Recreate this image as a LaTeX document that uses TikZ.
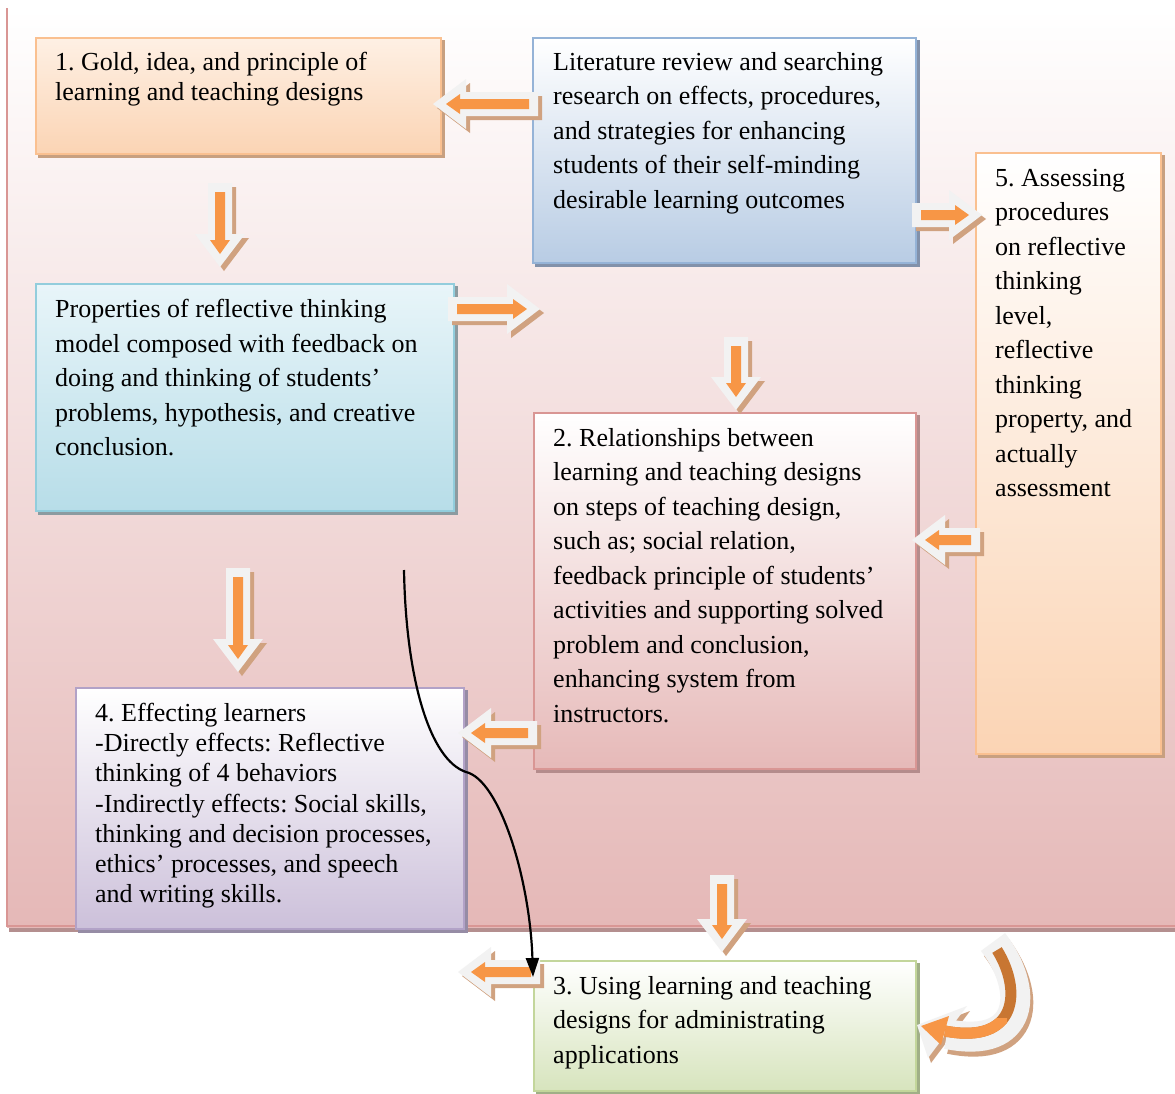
\documentclass[tikz,border=0pt]{standalone}
\usepackage{fontspec}
\setmainfont{Liberation Serif}
\usetikzlibrary{arrows.meta,calc}
\frenchspacing
\definecolor{bgpink}{RGB}{229,184,183}
\definecolor{bgline}{RGB}{217,150,148}
\definecolor{bgshadow}{RGB}{180,143,143}
\definecolor{arrwhite}{RGB}{242,242,242}
\definecolor{arrorange}{RGB}{247,150,70}
\definecolor{arrdark}{RGB}{200,118,50}
\definecolor{arrshadowc}{RGB}{208,162,128}
% box colours
\definecolor{oTop}{RGB}{254,240,228}
\definecolor{oBot}{RGB}{251,212,180}
\definecolor{oLine}{RGB}{250,192,144}
\definecolor{oSh}{RGB}{200,160,128}
\definecolor{bBot}{RGB}{184,204,228}
\definecolor{bLine}{RGB}{149,179,215}
\definecolor{bSh}{RGB}{130,145,170}
\definecolor{cTop}{RGB}{232,245,249}
\definecolor{cBot}{RGB}{183,221,232}
\definecolor{cLine}{RGB}{146,205,220}
\definecolor{cSh}{RGB}{140,155,160}
\definecolor{rBot}{RGB}{230,185,184}
\definecolor{rLine}{RGB}{217,150,148}
\definecolor{rSh}{RGB}{180,140,140}
\definecolor{pBot}{RGB}{204,192,218}
\definecolor{pLine}{RGB}{178,162,199}
\definecolor{pSh}{RGB}{150,140,165}
\definecolor{gBot}{RGB}{215,228,189}
\definecolor{gLine}{RGB}{195,214,155}
\definecolor{gSh}{RGB}{160,175,135}
\pgfdeclarelayer{bglayer}
\pgfdeclarelayer{shlayer}
\pgfsetlayers{bglayer,shlayer,main}
\tikzset{
  boxbase/.style={rectangle, draw, line width=2pt, inner sep=0pt, anchor=north west},
  txt/.style={anchor=north west, inner sep=0pt, align=left, text=black,
    font=\fontsize{26}{34.5}\selectfont},
  txtsm/.style={txt, font=\fontsize{26}{30.2}\selectfont},
}
\newcommand\myblockarrow[4]{%
  \begin{scope}[shift={(#1+4,#2+4)},rotate=#3]
    \fill[arrshadowc] (0,-12) -- ({#4-33},-12) -- ({#4-33},-25) -- (#4,0) -- ({#4-33},25) -- ({#4-33},12) -- (0,12) -- cycle;
  \end{scope}
  \begin{scope}[shift={(#1,#2)},rotate=#3]
    \fill[arrwhite] (0,-12) -- ({#4-33},-12) -- ({#4-33},-25) -- (#4,0) -- ({#4-33},25) -- ({#4-33},12) -- (0,12) -- cycle;
    \fill[arrorange] (9,-5) -- ({#4-27},-5) -- ({#4-27},-10) -- ({#4-13},0) -- ({#4-27},10) -- ({#4-27},5) -- (9,5) -- cycle;
  \end{scope}}
\newcommand\boxshadow[2]{%
  \begin{pgfonlayer}{shlayer}
    \fill[#2] ($(#1.south west)+(3,3)$) rectangle ($(#1.north east)+(3,3)$);
  \end{pgfonlayer}}
\begin{document}
\begin{tikzpicture}[x=1pt,y=-1pt]
\useasboundingbox (0,0) rectangle (1175,1093);
% background panel
\begin{pgfonlayer}{bglayer}
  \fill[white] (0,0) rectangle (1175,1093);
  \fill[bgshadow] (9,927) rectangle (1175,932);
  \shade[top color=white, bottom color=bgpink] (7,8) rectangle (1175,927);
  \draw[bgline, line width=2pt] (7,8) -- (7,926) -- (1175,926);
\end{pgfonlayer}

% boxes
\node[boxbase, minimum width=405pt, minimum height=116pt, draw=oLine, top color=oTop, bottom color=oBot] (b1) at (35,37) {};
\node[boxbase, minimum width=383pt, minimum height=225pt, draw=bLine, top color=white, bottom color=bBot] (lit) at (532,37) {};
\node[boxbase, minimum width=185pt, minimum height=601pt, draw=oLine, top color=white, bottom color=oBot] (b5) at (975,152) {};
\node[boxbase, minimum width=418pt, minimum height=227pt, draw=cLine, top color=cTop, bottom color=cBot] (props) at (35,283) {};
\node[boxbase, minimum width=382pt, minimum height=356pt, draw=rLine, top color=white, bottom color=rBot] (b2) at (533,412) {};
\node[boxbase, minimum width=388pt, minimum height=241pt, draw=pLine, top color=white, bottom color=pBot] (b4) at (75,687) {};
\node[boxbase, minimum width=382pt, minimum height=130pt, draw=gLine, top color=white, bottom color=gBot] (b3) at (533,960) {};
\boxshadow{b1}{oSh}
\boxshadow{lit}{bSh}
\boxshadow{b5}{oSh}
\boxshadow{props}{cSh}
\boxshadow{b2}{rSh}
\boxshadow{b4}{pSh}
\boxshadow{b3}{gSh}

% texts
\node[txtsm] (t1) at (55,52) {1. Gold, idea, and principle of\\learning and teaching designs};
\node[txt] (tlit) at (553,52) {Literature review and searching\\research on effects, procedures,\\and strategies for enhancing\\students of their self-minding\\desirable learning outcomes};
\node[txt] (t5) at (995,169) {5. Assessing\\procedures\\on reflective\\thinking\\level,\\reflective\\thinking\\property, and\\actually\\assessment};
\node[txt] (tprops) at (55,299) {Properties of reflective thinking\\model composed with feedback on\\doing and thinking of students’\\problems, hypothesis, and creative\\conclusion.};
\node[txt] (t2) at (553,428) {2. Relationships between\\learning and teaching designs\\on steps of teaching design,\\such as; social relation,\\feedback principle of students’\\activities and supporting solved\\problem and conclusion,\\enhancing system from\\instructors.};
\node[txtsm] (t4) at (95,703) {4. Effecting learners\\-Directly effects: Reflective\\thinking of 4 behaviors\\-Indirectly effects: Social skills,\\thinking and decision processes,\\ethics’ processes, and speech\\and writing skills.};
\node[txt] (t3) at (553,976) {3. Using learning and teaching\\designs for administrating\\applications};

% block arrows
\myblockarrow{538}{104}{180}{105}
\myblockarrow{220}{183}{-90}{84}
\myblockarrow{448}{309}{0}{92}
\myblockarrow{736}{337}{-90}{73}
\myblockarrow{912}{215}{0}{70}
\myblockarrow{980}{540}{180}{68}
\myblockarrow{238}{568}{-90}{104}
\myblockarrow{537}{733}{180}{79}
\myblockarrow{722}{875}{-90}{77}
\myblockarrow{540}{972}{180}{82}

% curved block arrow (bottom right)
\draw[arrshadowc, line width=30pt] (996,947) .. controls (1033,995) and (1028,1055) .. (950,1039);
\fill[arrshadowc] (920,1030) -- (970,1011) -- (931,1063) -- cycle;
\draw[arrwhite, line width=30pt] (993,942) .. controls (1030,990) and (1025,1050) .. (947,1034);
\fill[arrwhite] (917,1025) -- (967,1006) -- (928,1058) -- cycle;
\draw[arrdark, line width=11pt] (997,950) .. controls (1022,990) and (1018,1045) .. (945,1031);
\begin{scope}
  \clip (900,1018) rectangle (1007,1075);
  \draw[arrorange, line width=11pt] (997,950) .. controls (1022,990) and (1018,1045) .. (945,1031);
\end{scope}
\fill[arrorange] (921,1026) -- (949,1016) -- (941,1045) -- cycle;

% black curved connector
\coordinate (cs) at (404,570);
\coordinate (ce) at ($(b3.north west)+(0,17)$);
\draw[black, line width=2.2pt, -{Triangle[length=19pt,width=13pt]}] (cs) .. controls (406,680) and (430,760) .. (466,772) .. controls (500,780) and (530,880) .. (ce);
\end{tikzpicture}
\end{document}
